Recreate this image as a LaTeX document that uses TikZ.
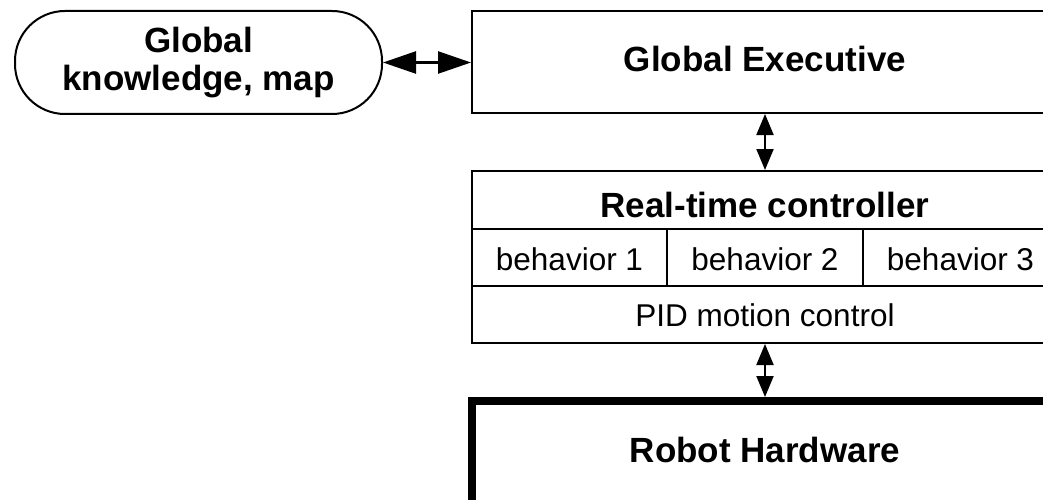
\documentclass[tikz,border=0pt]{standalone}
\usepackage{fontspec}
\setmainfont{Liberation Sans}
\usetikzlibrary{arrows.meta}
\begin{document}
\begin{tikzpicture}[x=1pt,y=-1pt,
  cell/.style={draw, line width=2pt, inner sep=0pt, anchor=center},
  big/.style={font=\fontsize{35}{38}\selectfont\bfseries},
  small/.style={font=\fontsize{31.5}{36}\selectfont},
  hlink/.style={line width=2.5pt,
    {Triangle[length=33pt,width=22pt]}-{Triangle[length=33pt,width=22pt]}},
  vlink/.style={line width=2pt,
    {Triangle[length=21pt,width=17pt]}-{Triangle[length=21pt,width=17pt]}}]
\useasboundingbox (0,0) rectangle (1043,500);
\clip (0,0) rectangle (1043,500);

% knowledge store and the executive above the controller
\node[cell, big, rounded corners=50pt, minimum width=367pt, minimum height=103pt,
      align=center] (map) at (198.5,62.5) {Global\\knowledge, map};
\node[cell, big, minimum width=586pt, minimum height=102pt,
      text height=25pt, text depth=5pt] (exec) at (765,62) {Global Executive};

% real-time controller, split into rows and behaviour cells
\node[cell, big, minimum width=586pt, minimum height=58pt,
      text height=34pt, text depth=0pt] (ctitle) at (765,200) {Real-time controller};
\node[cell, small, minimum width=195pt, minimum height=57pt,
      text height=25pt, text depth=0pt] (b1) at (569.5,257.5) {behavior 1};
\node[cell, small, minimum width=196pt, minimum height=57pt,
      text height=25pt, text depth=0pt] (b2) at (765,257.5) {behavior 2};
\node[cell, small, minimum width=195pt, minimum height=57pt,
      text height=25pt, text depth=0pt] (b3) at (960.5,257.5) {behavior 3};
\node[cell, small, minimum width=586pt, minimum height=57pt,
      text height=23pt, text depth=0pt] (pid) at (765,314.5) {PID motion control};

% hardware layer with a heavy frame
\node[cell, big, line width=8pt, minimum width=586pt, minimum height=120pt,
      text height=12pt, text depth=10pt] (robot) at (765,461) {Robot Hardware};

% two-way links
\draw[hlink] (map.east) -- (map.east -| exec.west);
\draw[vlink] (exec.south) -- (ctitle.north);
\draw[vlink] (pid.south) -- (robot.north);
\end{tikzpicture}
\end{document}
